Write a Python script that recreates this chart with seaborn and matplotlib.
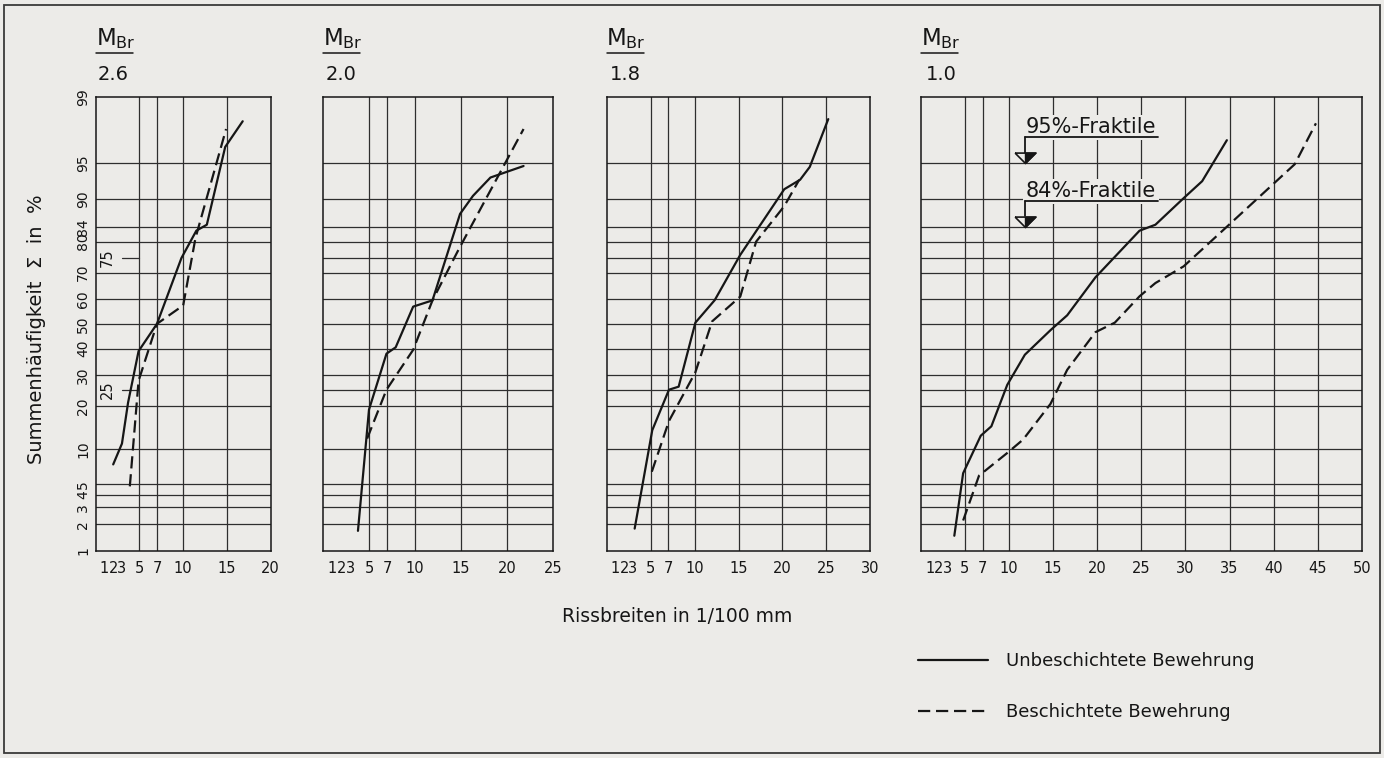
import math
import numpy as np
import pandas as pd
import matplotlib.pyplot as plt
from matplotlib.patches import Rectangle
import seaborn as sns

# Rissbreiten in 1/100 mm (x) und Summenhaeufigkeit in % (y), je M_Br-Gruppe
unb_26_x = [2.0, 3.0, 3.7, 4.9, 7.0, 9.8, 11.5, 12.7, 14.8, 16.8]
unb_26_y = [7.5, 11, 21, 39, 50, 75, 83, 84.5, 96.5, 98.1]
bes_26_x = [3.9, 4.9, 7.0, 10.0, 11.4, 14.9]
bes_26_y = [4.8, 28, 50, 57.5, 81, 97.7]

unb_20_x = [3.8, 5.0, 6.9, 7.9, 9.8, 11.9, 14.9, 16.3, 18.2, 21.8]
unb_20_y = [1.7, 19, 38, 40.5, 57, 59.5, 87, 90.5, 93.3, 94.7]
bes_20_x = [4.8, 6.9, 9.8, 11.9, 14.8, 21.8]
bes_20_y = [12, 25, 39.5, 59.5, 78, 97.7]

unb_18_x = [3.2, 5.2, 7.1, 8.2, 10.1, 12.3, 15.2, 20.2, 22.0, 23.1, 25.2]
unb_18_y = [1.8, 13.8, 25, 26, 50.5, 59.6, 76, 91.6, 93, 94.6, 98.2]
bes_18_x = [5.15, 7.1, 10.1, 12.0, 15.2, 17.0, 20.2, 21.9]
bes_18_y = [6.5, 16, 31, 51, 61, 80, 88.6, 93]

unb_10_x = [3.8, 4.8, 6.8, 8.0, 9.8, 11.8, 14.7, 16.6, 19.8, 24.8, 26.6, 29.8, 31.9, 34.7]
unb_10_y = [1.5, 6.3, 12.6, 14.7, 26.6, 37.6, 47.4, 53.5, 68.3, 83, 84.5, 90.1, 92.8, 97]
bes_10_x = [4.8, 6.6, 9.8, 11.6, 14.7, 16.6, 19.8, 22.0, 24.8, 26.6, 29.8, 34.7, 42.4, 44.8]
bes_10_y = [2.2, 6.0, 9.3, 11.8, 20.6, 31.9, 46.6, 50.5, 61.1, 66.2, 72.2, 84, 94.9, 98]

series = ['Unbeschichtete Bewehrung', 'Beschichtete Bewehrung']
panel_titles = ['2.6', '2.0', '1.8', '1.0']
panel_xmax = [20, 25, 30, 50]
y_labels = [1, 2, 3, 4, 5, 10, 20, 30, 40, 50, 60, 70, 80, 84, 90, 95, 99]
y_grid = [2, 3, 4, 5, 10, 20, 25, 30, 40, 50, 60, 70, 75, 80, 84, 90, 95]
y_small = [96, 97, 98]
fraktile_text = ['95%-Fraktile', '84%-Fraktile']
fraktile_level = [95, 84]
fraktile_line = [97.2, 89.5]

curves = [(unb_26_x, unb_26_y, bes_26_x, bes_26_y),
          (unb_20_x, unb_20_y, bes_20_x, bes_20_y),
          (unb_18_x, unb_18_y, bes_18_x, bes_18_y),
          (unb_10_x, unb_10_y, bes_10_x, bes_10_y)]

rows = []
for i, (ux, uy, bx, by) in enumerate(curves):
    rows += [dict(panel=i, x=a, y=b, Bewehrung=series[0]) for a, b in zip(ux, uy)]
    rows += [dict(panel=i, x=a, y=b, Bewehrung=series[1]) for a, b in zip(bx, by)]
df = pd.DataFrame(rows)

# Wahrscheinlichkeitsnetz: Normalverteilung auf der y-Achse
A = [-3.969683028665376e+01, 2.209460984245205e+02, -2.759285104469687e+02,
     1.383577518672690e+02, -3.066479806614716e+01, 2.506628277459239e+00]
B = [-5.447609879822406e+01, 1.615858368580409e+02, -1.556989798598866e+02,
     6.680131188771972e+01, -1.328068155288572e+01]
C = [-7.784894002430293e-03, -3.223964580411365e-01, -2.400758277161838e+00,
     -2.549671015179038e+00, 4.374664141464968e+00, 2.938163982698783e+00]
D = [7.784695709041462e-03, 3.224671290700398e-01, 2.445134137142996e+00,
     3.754408661907416e+00]


def probit(p):
    p = np.clip(np.asarray(p, dtype=float) / 100.0, 1e-10, 1 - 1e-10)
    q = p - 0.5
    r = q * q
    central = ((((((A[0]*r+A[1])*r+A[2])*r+A[3])*r+A[4])*r+A[5])*q /
               (((((B[0]*r+B[1])*r+B[2])*r+B[3])*r+B[4])*r+1))
    t = np.sqrt(-2 * np.log(np.minimum(p, 1 - p)))
    tail = ((((((C[0]*t+C[1])*t+C[2])*t+C[3])*t+C[4])*t+C[5]) /
            ((((D[0]*t+D[1])*t+D[2])*t+D[3])*t+1))
    tail = np.where(p < 0.5, tail, -tail)
    return np.where((p > 0.02425) & (p < 0.97575), central, tail)


_erf = np.vectorize(math.erf)


def cdf(z):
    return 50.0 * (1 + _erf(np.asarray(z, dtype=float) / math.sqrt(2)))


sns.set_style('white')
plt.rcParams['font.family'] = ['DejaVu Sans']
bg = '#ecebe8'
ink = '#161616'
grid_c = '#2e2e2e'

fig = plt.figure(figsize=(13.84, 7.58), dpi=100, facecolor=bg)
W, H = 1384, 758
ax_left = [95.7, 323, 606.5, 920.8]
ax_width = [175, 230, 264, 441]
ax_top, ax_bot = 96.7, 551
axes = [fig.add_axes([l / W, 1 - ax_bot / H, w / W, (ax_bot - ax_top) / H])
        for l, w in zip(ax_left, ax_width)]

dash_map = {series[0]: '', series[1]: (5.5, 2.6)}

for i, ax in enumerate(axes):
    ax.set_facecolor(bg)
    sub = df[df['panel'] == i]
    sns.lineplot(data=sub, x='x', y='y', style='Bewehrung', style_order=series,
                 dashes=dash_map, color=ink, linewidth=1.6, estimator=None,
                 sort=False, legend=(i == 3), ax=ax, zorder=4)
    ax.set_yscale('function', functions=(probit, cdf))
    xmax = panel_xmax[i]
    ax.set_xlim(0, xmax)
    ax.set_ylim(1, 99)
    ax.set_xlabel('')
    ax.set_ylabel('')

    xt = [1, 2, 3, 5, 7] + list(range(10, xmax + 1, 5))
    ax.set_xticks(xt)
    ax.set_xticklabels([str(v) for v in xt], fontsize=10.5)
    ax.tick_params(axis='x', direction='in', length=5, width=1, color=ink, pad=7.5, labelcolor=ink)
    for v in xt:
        if 5 <= v < xmax:
            ax.axvline(v, color=grid_c, lw=0.9, zorder=1)

    grid_levels = [g for g in y_grid if i > 0 or g not in (25, 75)]
    for g in grid_levels:
        ax.axhline(g, color=grid_c, lw=0.9, zorder=1)

    ax.set_yticks(y_labels)
    if i == 0:
        ax.set_yticklabels([str(v) for v in y_labels], rotation=90, va='center', fontsize=10)
    else:
        ax.set_yticklabels([])
    ax.tick_params(axis='y', which='major', length=0, pad=4, labelcolor=ink)
    ax.set_yticks(y_small, minor=True)
    ax.tick_params(axis='y', which='minor', direction='in', length=6, width=1, color=ink)

    for s in ax.spines.values():
        s.set_visible(True)
        s.set_color(ink)
        s.set_linewidth(1.1)

    # Kopf: M_Br / Wert
    h_px = ax_bot - ax_top
    bar_y = 1 + 43.4 / h_px
    ax.plot([0, 37 / ax_width[i]], [bar_y, bar_y], transform=ax.transAxes,
            color=ink, lw=1.1, clip_on=False)
    ax.text(0.0, bar_y + 2.0 / h_px, 'M$_{\\mathregular{Br}}$', transform=ax.transAxes,
            fontsize=16.5, ha='left', va='bottom', color=ink)
    ax.text(0.012, 1 + 22.2 / h_px, panel_titles[i], transform=ax.transAxes,
            fontsize=14, ha='left', va='center', color=ink)

# kurze 25/75-Striche im ersten Netz
for lvl in (25, 75):
    axes[0].plot([3.0, 5.0], [lvl, lvl], color=grid_c, lw=0.9, zorder=1)
    axes[0].text(1.35, lvl, str(lvl), rotation=90, ha='center', va='center',
                 fontsize=10.5, color=ink)

# Fraktile-Markierungen im letzten Netz
ax4 = axes[3]
for txt, lvl, uline in zip(fraktile_text, fraktile_level, fraktile_line):
    ax4.text(11.9, uline, txt, ha='left', va='bottom', fontsize=15, color=ink, zorder=3,
             bbox=dict(facecolor=bg, edgecolor='none', pad=2.0))
    ax4.plot([11.8, 26.9], [uline, uline], color=ink, lw=1.3, zorder=5)
    top = cdf(probit(lvl) + 0.105)
    ax4.plot([11.8, 11.8], [uline, top], color=ink, lw=1.3, zorder=5)
    ax4.plot([11.8], [lvl], marker=[(-1, 1), (1, 1), (0, 0), (-1, 1)], ms=15,
             mfc=bg, mec=ink, mew=1.2, zorder=6)
    ax4.plot([11.8], [lvl], marker=[(0, 1), (1, 1), (0, 0), (0, 1)], ms=15,
             mfc=ink, mec=ink, mew=1.0, zorder=7)

handles, labels = ax4.get_legend_handles_labels()
ax4.get_legend().remove()
keep = [(h, l) for h, l in zip(handles, labels) if l in series]
for h, _ in keep:
    h.set_linewidth(1.6)
    h.set_color(ink)
fig.legend([h for h, _ in keep], [l for _, l in keep], loc='upper left',
           bbox_to_anchor=(918 / W, 1 - 652.5 / H), frameon=False, fontsize=13,
           handlelength=3.9, handletextpad=1.0, labelspacing=1.8,
           borderpad=0, borderaxespad=0, labelcolor=ink)

fig.text(37 / W, 1 - 329 / H, 'Summenhäufigkeit  Σ  in  %', rotation=90,
         ha='center', va='center', fontsize=14, color=ink)
fig.text(677 / W, 1 - 617 / H, 'Rissbreiten in 1/100 mm', ha='center', va='center',
         fontsize=13.5, color=ink)

fig.add_artist(Rectangle((4 / W, 5 / H), 1376 / W, 748 / H, transform=fig.transFigure,
                         fill=False, edgecolor='#3a3a3a', lw=1.3))

fig.savefig('out.png', dpi=100, facecolor=bg)
